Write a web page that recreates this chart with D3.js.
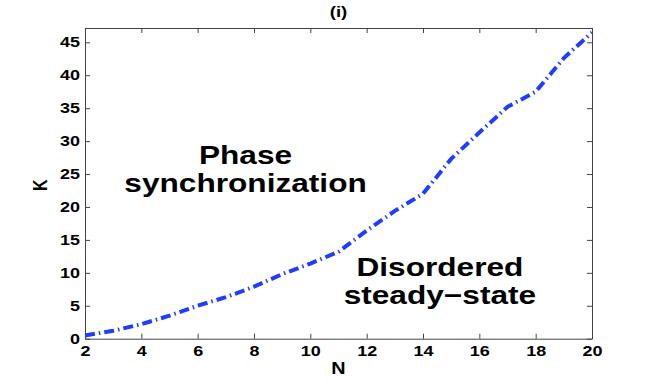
<!DOCTYPE html>
<html>
<head>
  <meta charset="utf-8">
  <title></title>
  <style>
    body { margin: 0; background: #fff; }
    text { font-family: "Liberation Sans", Arial, sans-serif; font-weight: bold; }
  </style>
  <script src="https://d3js.org/d3.v7.min.js"></script>
</head>
<body>
  <svg id="chart" width="654" height="382"></svg>
  <script>
    // data
    const nValues = [2, 3, 4, 5, 6, 7, 8, 9, 10, 11, 12, 13, 14, 15, 16, 17, 18, 19, 20]
    const kValues = [0.5, 1.2, 2.2, 3.5, 5.0, 6.3, 7.9, 9.8, 11.4, 13.2, 16.4, 19.4, 22.0, 27.3, 31.3, 35.2, 37.5, 42.6, 46.5]
    const xTicks = [2, 4, 6, 8, 10, 12, 14, 16, 18, 20]
    const yTicks = [0, 5, 10, 15, 20, 25, 30, 35, 40, 45]
    const regionLabels = [
      { lines: ["Phase", "synchronization"], n: 7.7, k: 26.5 },
      { lines: ["Disordered", "steady\u2212state"], n: 14.6, k: 9.5 }
    ]

    // the reference figure is stretched sideways, so is its text
    const stretchX = 1.24

    const svg = d3.select("#chart")
    const margin = { left: 85, right: 62, top: 28, bottom: 43.3 }
    const width = 654 - margin.left - margin.right
    const height = 382 - margin.top - margin.bottom

    const x = d3.scaleLinear().domain([2, 20]).range([0, width])
    const y = d3.scaleLinear().domain([0, 47.17]).range([height, 0])

    const g = svg.append("g").attr("transform", `translate(${margin.left},${margin.top})`)

    function stretch(sel) {
      sel.each(function() {
        const t = d3.select(this)
        const x0 = +t.attr("x") || 0
        t.attr("x", 0).attr("transform", `translate(${x0},0) scale(${stretchX},1)`)
      })
    }

    // axes, MATLAB style: ticks pointing in, on all four sides
    const axisStyle = sel => {
      sel.selectAll("path").attr("stroke", "#444").attr("stroke-width", 1)
      sel.selectAll("line").attr("stroke", "#444").attr("stroke-width", 1)
      sel.selectAll("text").attr("fill", "#000").style("font-size", "14.5px").call(stretch)
    }

    g.append("g")
      .attr("transform", `translate(0,${height})`)
      .call(d3.axisBottom(x).tickValues(xTicks).tickSizeInner(-5).tickSizeOuter(0).tickPadding(7))
      .call(axisStyle)

    g.append("g")
      .call(d3.axisTop(x).tickValues(xTicks).tickSizeInner(-5).tickSizeOuter(0).tickFormat(""))
      .call(axisStyle)

    g.append("g")
      .call(d3.axisLeft(y).tickValues(yTicks).tickSizeInner(-5).tickSizeOuter(0).tickPadding(5))
      .call(axisStyle)

    g.append("g")
      .attr("transform", `translate(${width},0)`)
      .call(d3.axisRight(y).tickValues(yTicks).tickSizeInner(-5).tickSizeOuter(0).tickFormat(""))
      .call(axisStyle)

    // the boundary curve
    const line = d3.line()
      .x((d, i) => x(nValues[i]))
      .y(d => y(d))

    g.append("path")
      .datum(kValues)
      .attr("d", line)
      .attr("fill", "none")
      .attr("stroke", "#1f3cff")
      .attr("stroke-width", 4)
      .attr("stroke-dasharray", "10,4,1.5,4")

    // region labels
    regionLabels.forEach(r => {
      r.lines.forEach((s, i) => {
        g.append("text")
          .attr("x", x(r.n))
          .attr("y", y(r.k) + i * 28)
          .attr("text-anchor", "middle")
          .style("font-size", "25.5px")
          .attr("fill", "#000")
          .text(s)
          .call(stretch)
      })
    })

    // titles
    svg.append("text")
      .attr("x", margin.left + width / 2)
      .attr("y", 17)
      .attr("text-anchor", "middle")
      .style("font-size", "15px")
      .text("(i)")
      .call(stretch)

    svg.append("text")
      .attr("x", 338.5)
      .attr("y", 374)
      .attr("text-anchor", "middle")
      .style("font-size", "16px")
      .text("N")
      .call(stretch)

    // rotated label: the sideways stretch acts on the glyph height here
    svg.append("text")
      .attr("transform", `translate(47,${margin.top + height / 2 + 2}) rotate(-90) scale(1,${stretchX})`)
      .attr("text-anchor", "middle")
      .style("font-size", "16px")
      .text("K")
  </script>
</body>
</html>
